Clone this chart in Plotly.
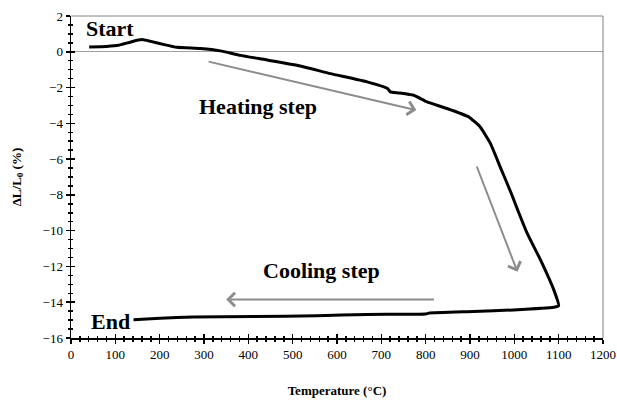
import plotly.graph_objects as go

# Heating branch
heat_T = [41, 80, 107, 135, 160, 180, 210, 239, 292, 337, 382, 440, 517, 585, 668, 714, 720, 740, 773, 803, 848, 897, 923, 946, 968, 993, 1010, 1029, 1059, 1089, 1100]
heat_dL = [0.27, 0.30, 0.36, 0.55, 0.68, 0.58, 0.40, 0.25, 0.18, 0.05, -0.20, -0.45, -0.79, -1.22, -1.68, -2.05, -2.24, -2.30, -2.43, -2.80, -3.17, -3.64, -4.20, -5.12, -6.43, -7.91, -9.00, -10.15, -11.63, -13.31, -14.20]
# Cooling branch
cool_T = [1100, 1089, 998, 908, 807, 800, 668, 555, 412, 277, 201, 141]
cool_dL = [-14.20, -14.28, -14.43, -14.52, -14.61, -14.66, -14.68, -14.76, -14.80, -14.83, -14.89, -14.98]

# Labels
label_text = ["Start", "Heating step", "Cooling step", "End"]
label_T = [89, 421, 566, 89]
label_dL = [1.31, -3.04, -12.25, -15.08]

# Arrows (tail -> head)
arrow_tail_T = [307, 914, 822]
arrow_tail_dL = [-0.53, -6.33, -13.85]
arrow_head_T = [779, 1007, 350]
arrow_head_dL = [-3.26, -12.3, -13.85]

x_ticks = list(range(0, 1201, 100))
y_ticks = list(range(-16, 3, 2))

FONT = "'Liberation Serif', 'Times New Roman', Times, serif"

fig = go.Figure()
fig.add_trace(go.Scatter(x=heat_T + cool_T[1:], y=heat_dL + cool_dL[1:], mode="lines",
                         line=dict(color="black", width=3, shape="spline", smoothing=0.4),
                         showlegend=False, hoverinfo="skip"))
fig.add_trace(go.Scatter(x=[None], y=[None], xaxis="x2", yaxis="y2", showlegend=False))

for t, x, y in zip(label_text, label_T, label_dL):
    fig.add_annotation(x=x, y=y, text="<b>%s</b>" % t, showarrow=False,
                       font=dict(family=FONT, size=22, color="black"))

for tx, ty, hx, hy in zip(arrow_tail_T, arrow_tail_dL, arrow_head_T, arrow_head_dL):
    fig.add_annotation(x=hx, y=hy, ax=tx, ay=ty, xref="x", yref="y", axref="x", ayref="y",
                       text="", showarrow=True, arrowhead=4, arrowsize=1.3, arrowwidth=2,
                       arrowcolor="#8c8c8c")

# gray frame top/right
fig.add_shape(type="line", xref="paper", yref="paper", x0=0, x1=1, y0=1, y1=1,
              line=dict(color="#808080", width=1))
fig.add_shape(type="line", xref="paper", yref="paper", x0=1, x1=1, y0=0, y1=1,
              line=dict(color="#808080", width=1))

axis_common = dict(showgrid=False, linecolor="black", linewidth=1.5, tickcolor="black",
                   automargin=False,
                   tickfont=dict(family=FONT, size=13, color="black"))

fig.update_layout(
    width=617, height=403,
    font=dict(family=FONT),
    margin=dict(l=71, r=14, t=16, b=65),
    plot_bgcolor="white", paper_bgcolor="white",
    xaxis=dict(range=[0, 1200], tickvals=x_ticks, ticks="outside", ticklen=4, tickwidth=1.5,
               minor=dict(dtick=20, ticks="outside", ticklen=2, tickcolor="black"),
               zeroline=False,
               title=dict(text="<b>Temperature (°C)</b>", font=dict(family=FONT, size=13, color="black"), standoff=25),
               **axis_common),
    yaxis=dict(range=[-16, 2], tickvals=y_ticks, ticks="outside", ticklen=4, tickwidth=1.5,
               minor=dict(dtick=0.5, ticks="outside", ticklen=2, tickcolor="black"),
               zeroline=True, zerolinecolor="#a0a0a0", zerolinewidth=1,
               title=dict(text="<b>ΔL/L<sub>0</sub> (%)</b>", font=dict(family=FONT, size=13, color="black"), standoff=18),
               **axis_common),
    xaxis2=dict(range=[0, 1200], overlaying="x", tickvals=x_ticks, ticks="inside", ticklen=4, tickwidth=1.5,
                tickcolor="black", showticklabels=False, showgrid=False, zeroline=False, showline=False,
                automargin=False,
                minor=dict(dtick=20, ticks="inside", ticklen=2, tickcolor="black")),
    yaxis2=dict(range=[-16, 2], overlaying="y", tickvals=y_ticks, ticks="inside", ticklen=4, tickwidth=1.5,
                tickcolor="black", showticklabels=False, showgrid=False, zeroline=False, showline=False,
                automargin=False,
                minor=dict(dtick=0.5, ticks="inside", ticklen=2, tickcolor="black")),
)

fig.write_html("out.html", config={"displayModeBar": False, "staticPlot": True},
               post_script="document.body.style.margin='0';document.body.style.overflow='hidden';")
